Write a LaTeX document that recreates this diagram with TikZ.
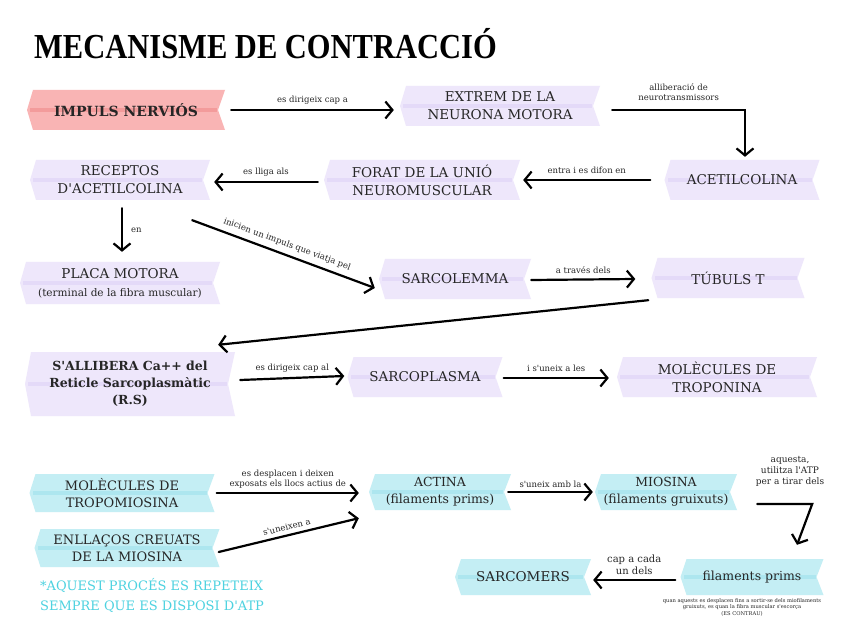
\documentclass[tikz,border=0pt]{standalone}
\usepackage{fontspec}
\setmainfont{DejaVu Serif}[Ligatures=TeXOff]
\newfontfamily\titlefont{Liberation Serif}[Ligatures=TeXOff]
\usetikzlibrary{calc,arrows.meta}
\definecolor{lav}{HTML}{EEE7FB}
\definecolor{lavd}{HTML}{E4DAF8}
\definecolor{pinkr}{HTML}{F9B4B4}
\definecolor{pinkd}{HTML}{F39B9B}
\definecolor{cya}{HTML}{C4EEF4}
\definecolor{cyad}{HTML}{ADE6EF}
\definecolor{cyantext}{HTML}{4DD2E0}
\newcommand\bxf{\fontsize{13.5pt}{18pt}\selectfont}
\newcommand\cxf{\fontsize{12.5pt}{17pt}\selectfont}
\newcommand\lblf{\fontsize{8.5pt}{10pt}\selectfont}
\tikzset{
  rib/.style 2 args={path picture={
    \fill[#1] ($(path picture bounding box.north west)+(6,0)$) -- (path picture bounding box.north east)
      -- ($(path picture bounding box.east)+(-7,0)$) -- (path picture bounding box.south east)
      -- ($(path picture bounding box.south west)+(6,0)$) -- (path picture bounding box.west) -- cycle;
    \fill[#2] ($(path picture bounding box.west)+(3,-2)$) rectangle ($(path picture bounding box.east)+(-8,2)$);
  }},
  box/.style n args={4}{rib={#1}{#2}, minimum width=#3, minimum height=#4, inner sep=1pt, align=center, text=black!85},
  lavbox/.style 2 args={box={lav}{lavd}{#1}{#2}, font=\bxf},
  cyabox/.style 2 args={box={cya}{cyad}{#1}{#2}, font=\cxf},
  arr/.style={-{Straight Barb[length=7pt,width=17pt,line width=2.2pt]}, line width=2.2pt, line cap=round, black},
  lbl/.style={font=\lblf, align=center, inner sep=2pt, text=black!85},
}
\begin{document}
\begin{tikzpicture}[x=1pt,y=-1pt]
\fill[white] (0,0) rectangle (848,636);
\useasboundingbox (0,0) rectangle (848,636);

\node[anchor=west, inner sep=0] (title) at (34,44) {\scalebox{1}[1.15]{\titlefont\bfseries\fontsize{30.5pt}{32pt}\selectfont MECANISME DE CONTRACCIÓ}};

% row 1
\node[box={pinkr}{pinkd}{198}{40}, font=\fontsize{14pt}{16pt}\selectfont\bfseries] (imp) at (126,110) {IMPULS NERVIÓS};
\node[lavbox={200}{40}] (ext) at (500,106) {EXTREM DE LA\\NEURONA MOTORA};
% row 2
\node[lavbox={155}{40}] (acet) at (742,180) {ACETILCOLINA};
\node[lavbox={196}{40}] (forat) at (422,180) {FORAT DE LA UNIÓ\\NEUROMUSCULAR};
\node[lavbox={180}{40}] (rec) at (120,180) {RECEPTOS\\D'ACETILCOLINA};
% row 3
\node[lavbox={200}{42}] (placa) at (120,283) {PLACA MOTORA\\{\fontsize{10.5pt}{13pt}\selectfont (terminal de la fibra muscular)}};
\node[lavbox={152}{40}] (sarcol) at (455,279) {SARCOLEMMA};
\node[lavbox={153}{40}] (tubuls) at (728,278) {TÚBULS T};
% row 4
\node[lavbox={210}{64}, font=\fontsize{12.5pt}{17pt}\selectfont\bfseries] (allib) at (130,384) {S'ALLIBERA Ca++ del\\Reticle Sarcoplasmàtic\\(R.S)};
\node[lavbox={155}{40}] (sarcop) at (425,377) {SARCOPLASMA};
\node[lavbox={200}{40}] (tropon) at (717,377) {MOLÈCULES DE\\TROPONINA};
% cyan part
\node[cyabox={185}{38}, font=\fontsize{13pt}{17pt}\selectfont] (tropom) at (122,493) {MOLÈCULES DE\\TROPOMIOSINA};
\node[cyabox={185}{38}, font=\fontsize{13pt}{17pt}\selectfont] (enll) at (127,548) {ENLLAÇOS CREUATS\\DE LA MIOSINA};
\node[cyabox={142}{36}] (actina) at (440,492) {ACTINA\\(filaments prims)};
\node[cyabox={142}{36}] (miosina) at (666,492) {MIOSINA\\(filaments gruixuts)};
\node[cyabox={143}{36}] (fprims) at (752,577) {filaments prims};
\node[cyabox={136}{36}, font=\fontsize{13.5pt}{17pt}\selectfont] (sarcom) at (523,577) {SARCOMERS};

\node[anchor=west, align=left, inner sep=0, text=cyantext, font=\fontsize{13pt}{20pt}\selectfont] (note) at (40,596) {*AQUEST PROCÉS ES REPETEIX\\SEMPRE QUE ES DISPOSI D'ATP};
\node[align=center, inner sep=0, text=black!85, font=\fontsize{5.2pt}{6.5pt}\selectfont] (tiny) at (742,607) {quan aquests es desplacen fins a sortir-se dels miofilaments\\gruixuts, es quan la fibra muscular s'escorça\\(ES CONTRAU)};

% connectors
\draw[arr] ($(imp.east)+(6,0)$) -- ($(ext.west |- imp.east)+(-6,0)$) node[lbl, midway, above=3pt] {es dirigeix cap a};
\draw[arr] ($(ext.east)+(12,4)$) -| ($(acet.north)+(3,-3)$) node[lbl, pos=0.25, above=6pt] {alliberació de\\neurotransmissors};
\draw[arr] ($(acet.west)+(-14,0)$) -- ($(forat.east)+(3,0)$) node[lbl, midway, above=3pt] {entra i es difon en};
\draw[arr] ($(forat.west)+(-6,2)$) -- ($(rec.east)+(4,2)$) node[lbl, midway, above=3pt] {es lliga als};
\draw[arr] ($(rec.south)+(2,8)$) -- ($(placa.north)+(2,-10)$) node[lbl, midway, right=6pt] {en};
\draw[arr] ($(rec.south east)+(-18,20)$) -- ($(sarcol.west)+(-4,9)$) node[lbl, midway, above=3pt, sloped] {inicien un impuls que viatja pel};
\draw[arr] ($(sarcol.east)+(0,1)$) -- ($(tubuls.west)+(-16,1)$) node[lbl, midway, above=3pt] {a través dels};
\draw[arr] ($(tubuls.south west)+(-3,2)$) -- ($(allib.north east)+(-17,-7)$);
\draw[arr] ($(allib.east)+(5,-4)$) -- ($(sarcop.west)+(-3,-1)$) node[lbl, midway, above=3pt] {es dirigeix cap al};
\draw[arr] ($(sarcop.east)+(1,1)$) -- ($(tropon.west)+(-8,1)$) node[lbl, midway, above=3pt] {i s'uneix a les};
\draw[arr] ($(tropom.east)+(2,0)$) -- ($(actina.west)+(-10,1)$) node[lbl, midway, above=2pt] {es desplacen i deixen\\exposats els llocs actius de};
\draw[arr] ($(enll.east)+(-1,4)$) -- ($(actina.south west)+(-10,8)$) node[lbl, midway, above=2pt, sloped] {s'uneixen a};
\draw[arr] ($(actina.east)+(-3,0)$) -- ($(miosina.west)+(-2,0)$) node[lbl, midway, above=1pt] {s'uneix amb la};
\draw[arr] ($(miosina.east)+(20,12)$) -- ++(55,0) -- ($(fprims.north)+(45,-14)$);
\node[lbl, font=\fontsize{9pt}{11pt}\selectfont] (atp) at (790,471) {aquesta,\\utilitza l'ATP\\per a tirar dels};
\draw[arr] ($(fprims.west)+(-5,3)$) -- ($(sarcom.east)+(2,3)$) node[lbl, midway, above=2pt, font=\fontsize{10pt}{12pt}\selectfont] {cap a cada\\un dels};
\end{tikzpicture}
\end{document}
